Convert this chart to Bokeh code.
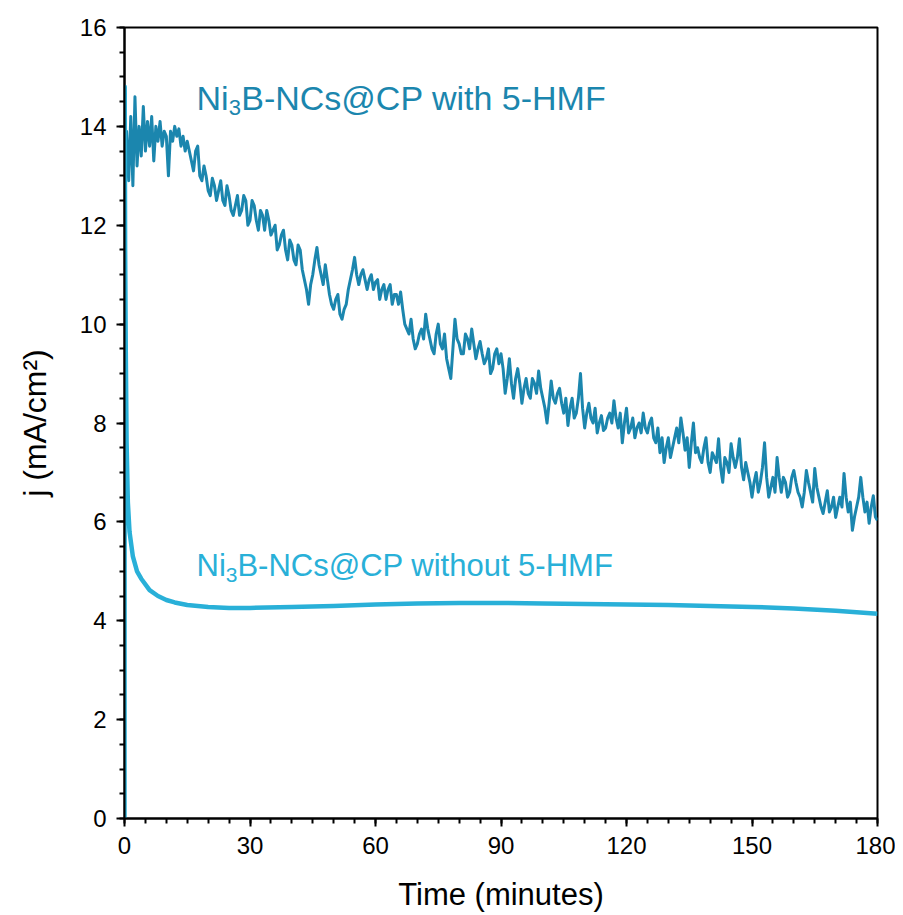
import numpy as np
from bokeh.plotting import figure
from bokeh.models import Label, Range1d, SingleIntervalTicker
from bokeh.embed import file_html
from bokeh.resources import INLINE

# ---------------- data ----------------
t_with_early = [0.2, 0.5, 1.0, 1.5, 2.0, 2.5, 3.0, 3.5, 4.0, 4.5,
                5.0, 5.5, 6.0, 6.5, 7.0, 7.5, 8.0, 8.5, 9.0, 9.5,
                10.0, 10.5, 11.0, 11.5, 12.0, 12.5, 13.0, 13.5, 14.0, 14.5, 15.0]
j_with_early = [12.8, 13.9, 12.9, 14.2, 12.8, 14.6, 13.2, 14.0, 13.4, 14.4,
                13.5, 14.1, 13.6, 14.2, 13.3, 14.0, 13.7, 14.1, 13.6, 13.9,
                13.8, 13.0, 13.9, 13.7, 14.0, 13.8, 13.95, 13.6, 13.8, 13.5, 13.7]
# whole minutes 16..180
j_with_min = [13.3, 13.5, 13.0, 13.2, 12.7, 12.95, 12.5, 12.9, 12.4, 12.6,
              12.2, 12.6, 12.3, 12.5, 12.1, 12.4, 11.9, 12.2, 12.3, 11.8,
              12.0, 11.6, 11.9, 11.3, 11.6, 11.2, 11.5, 10.9, 10.4, 11.0,
              11.55, 11.0, 11.2, 10.6, 10.3, 10.6, 10.1, 10.4, 10.9, 11.35,
              10.8, 11.1, 10.7, 11.0, 10.85, 10.5, 10.8, 10.7, 10.4, 10.6,
              10.65, 10.0, 9.8, 9.7, 9.6, 9.9, 10.2, 9.7, 9.4, 10.0,
              9.5, 9.3, 8.9, 10.1, 9.6, 9.4, 9.7, 9.9, 9.3, 9.65,
              9.2, 9.5, 9.1, 9.5, 9.4, 8.6, 9.3, 8.5, 9.1, 8.4,
              8.9, 8.5, 8.8, 9.05, 8.5, 8.0, 8.85, 8.4, 8.7, 8.2,
              7.95, 8.5, 8.2, 9.0, 7.9, 8.4, 8.0, 7.8, 8.15, 7.9,
              8.2, 8.45, 7.9, 7.6, 8.3, 7.9, 7.7, 8.0, 8.2, 7.8,
              8.1, 7.6, 7.4, 7.2, 7.7, 7.5, 7.9, 8.1, 7.45, 7.1,
              8.0, 7.5, 7.2, 7.7, 7.0, 7.3, 7.68, 6.8, 7.2, 7.58,
              7.1, 7.68, 6.85, 7.0, 6.5, 7.0, 6.8, 7.6, 6.5, 6.9,
              7.3, 6.6, 6.8, 6.6, 7.04, 6.6, 6.3, 7.04, 6.6, 7.08,
              6.5, 6.17, 6.63, 6.3, 6.09, 6.5, 6.98, 6.2, 5.83, 6.3,
              6.9, 6.2, 5.97, 6.53, 6.03]
# half minutes 16.5..179.5
j_with_half = [13.1, 13.6, 12.9, 13.0, 12.6, 12.8, 12.7, 12.5, 12.8, 12.3,
               12.4, 12.2, 12.6, 12.0, 12.5, 12.1, 12.3, 11.9, 12.1, 11.9,
               11.5, 11.8, 11.5, 11.7, 11.3, 11.6, 11.1, 10.7, 10.8, 11.3,
               11.2, 10.8, 10.9, 10.4, 10.5, 10.2, 10.3, 10.7, 11.1, 11.0,
               11.0, 10.9, 10.9, 10.7, 10.9, 10.7, 10.5, 10.8, 10.6, 10.4,
               10.3, 9.9, 10.1, 9.5, 9.8, 9.7, 9.9, 9.5, 9.8, 9.6,
               9.8, 9.1, 9.5, 9.7, 9.4, 9.8, 9.5, 9.6, 9.5, 9.4,
               9.3, 9.0, 9.4, 9.2, 9.1, 8.9, 8.8, 8.9, 8.8, 8.7,
               8.6, 8.9, 8.6, 8.7, 8.3, 8.4, 8.5, 8.6, 8.4, 8.5,
               8.3, 8.1, 8.5, 8.3, 8.2, 8.1, 8.3, 8.0, 7.85, 8.1,
               8.0, 8.1, 8.2, 8.0, 7.8, 8.1, 7.9, 7.8, 7.9, 8.0,
               7.7, 7.9, 7.7, 7.5, 7.3, 7.7, 7.6, 7.8, 7.7, 7.6,
               7.4, 7.3, 7.5, 7.2, 7.4, 7.2, 7.1, 7.3, 7.0, 7.3,
               7.3, 7.1, 7.2, 6.8, 6.8, 6.6, 7.1, 6.9, 6.7, 6.6,
               6.9, 6.9, 6.5, 6.9, 6.8, 6.5, 6.6, 6.8, 6.4, 6.7,
               6.3, 6.4, 6.2, 6.5, 6.3, 6.3, 6.5, 6.4, 6.1, 6.5,
               6.5, 6.4, 6.3, 6.1]

t_with = list(t_with_early)
j_with = list(j_with_early)
for k, m in enumerate(range(16, 180)):
    t_with += [m, m + 0.5]
    j_with += [j_with_min[k], j_with_half[k]]
t_with.append(180)
j_with.append(j_with_min[-1])

t_without = [0, 0.05, 0.15, 0.3, 0.5, 0.8, 1.2, 2, 3, 4, 6, 8, 10, 12, 15, 20,
             25, 30, 40, 50, 60, 70, 80, 90, 100, 110, 120, 130, 140, 150,
             160, 170, 180]
j_without = [0, 14.8, 11.5, 9.5, 7.6, 6.4, 5.8, 5.3, 5.0, 4.85, 4.62, 4.5, 4.42,
             4.37, 4.32, 4.28, 4.26, 4.26, 4.28, 4.3, 4.33, 4.35, 4.36, 4.36,
             4.35, 4.34, 4.33, 4.32, 4.3, 4.28, 4.25, 4.2, 4.14]

x_ticks_interval = 30
y_ticks_interval = 2

label_with = ["Ni", "3", "B-NCs@CP with 5-HMF"]
label_without = ["Ni", "3", "B-NCs@CP without 5-HMF"]
ylabel = "j (mA/cm²)"
xlabel = "Time (minutes)"

# ---------------- styles ----------------
C_WITH = "#1b86ae"
C_WITHOUT = "#29b0d8"
FONT = "Liberation Sans"

p = figure(width=895, height=914, output_backend="svg", toolbar_location=None,
           x_range=Range1d(0, 180), y_range=Range1d(0, 16),
           min_border_left=124, min_border_right=18, min_border_top=27,
           min_border_bottom=96)
p.background_fill_color = "white"
p.border_fill_color = "white"
p.xgrid.visible = False
p.ygrid.visible = False
p.outline_line_color = "black"
p.outline_line_width = 2
p.outline_line_alpha = 1

p.xaxis.ticker = SingleIntervalTicker(interval=x_ticks_interval, num_minor_ticks=6)
p.yaxis.ticker = SingleIntervalTicker(interval=y_ticks_interval, num_minor_ticks=4)
for ax in (p.xaxis, p.yaxis):
    ax.axis_line_width = 2
    ax.axis_line_color = "black"
    ax.major_tick_line_width = 2
    ax.minor_tick_line_width = 2
    ax.major_tick_in = 0
    ax.major_tick_out = 8
    ax.minor_tick_in = 0
    ax.minor_tick_out = 5
    ax.major_label_text_font = FONT
    ax.major_label_text_font_size = "24px"
    ax.major_label_text_color = "black"
    ax.major_label_standoff = 10
    ax.axis_label_text_font = FONT
    ax.axis_label_text_font_style = "normal"
    ax.axis_label_text_color = "black"
p.xaxis.axis_label = xlabel
p.xaxis.axis_label_text_font_size = "31px"
p.xaxis.axis_label_standoff = 20
p.yaxis.axis_label = ylabel
p.yaxis.axis_label_text_font_size = "32px"
p.yaxis.axis_label_standoff = 24

p.line(t_with, j_with, line_color=C_WITH, line_width=3, line_join="round")
p.line(t_without, j_without, line_color=C_WITHOUT, line_width=4.5, line_join="round")


def add_label(x, y, text, size, color, **kw):
    p.add_layout(Label(x=x, y=y, text=text, text_font=FONT, text_font_size=size,
                       text_color=color, text_baseline="alphabetic",
                       text_align="left", **kw))


add_label(17.21, 14.58, label_with[0], "34px", C_WITH)
add_label(24.9, 14.38, label_with[1], "22px", C_WITH)
add_label(27.9, 14.58, label_with[2], "34px", C_WITH)

add_label(17.21, 5.12, label_without[0], "31px", C_WITHOUT)
add_label(24.2, 4.92, label_without[1], "21px", C_WITHOUT)
add_label(26.99, 5.12, label_without[2], "31px", C_WITHOUT)

open("out.html", "w").write(file_html(p, INLINE))
